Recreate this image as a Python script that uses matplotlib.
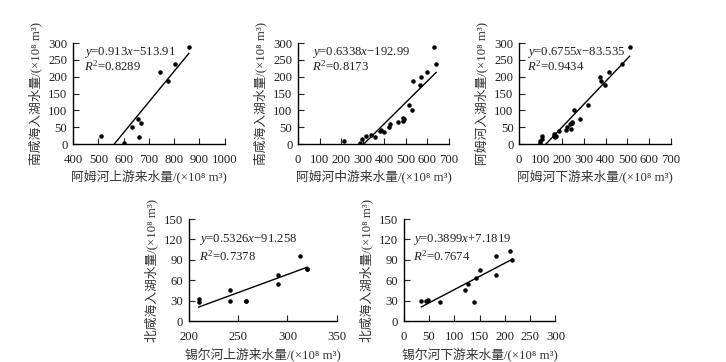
import matplotlib
matplotlib.use("Agg")
import matplotlib.pyplot as plt
import numpy as np

plt.rcParams['font.family'] = ['Liberation Serif', 'Noto Sans CJK SC', 'DejaVu Sans']
plt.rcParams['mathtext.fontset'] = 'custom'
plt.rcParams['mathtext.rm'] = 'Liberation Serif'
plt.rcParams['mathtext.it'] = 'Liberation Serif:italic'

# Panel 1: Amu Darya upstream vs South Aral inflow
p1_x = [510, 600, 632, 655, 662, 670, 742, 775, 805, 858]
p1_y = [25, 4, 50, 75, 20, 63, 215, 188, 238, 288]
p1_coef = (0.913, -513.91)
p1_eq = "$y$=0.913$x$\u2212513.91"
p1_r2 = "$R^{\\mathrm{2}}$=0.8289"

# Panel 2: Amu Darya midstream
p2_x = [212, 285, 295, 315, 340, 355, 378, 385, 400, 420, 425, 465, 485, 488, 490,
        515, 530, 535, 565, 570, 600, 630, 640]
p2_y = [10, 3, 15, 25, 28, 22, 38, 42, 35, 50, 60, 65, 70, 78, 75,
        115, 100, 187, 175, 198, 215, 287, 238]
p2_coef = (0.6338, -192.99)
p2_eq = "$y$=0.6338$x$\u2212192.99"
p2_r2 = "$R^{\\mathrm{2}}$=0.8173"

# Panel 3: Amu Darya downstream
p3_x = [95, 95, 105, 105, 160, 160, 165, 170, 185, 215, 220, 235, 240, 245, 245,
        255, 280, 320, 375, 380, 395, 415, 475, 510]
p3_y = [8, 3, 25, 15, 30, 25, 20, 25, 38, 42, 50, 60, 45, 65, 62,
        100, 75, 115, 200, 188, 175, 215, 238, 288]
p3_coef = (0.6755, -83.535)
p3_eq = "$y$=0.6755$x$\u221283.535"
p3_r2 = "$R^{\\mathrm{2}}$=0.9434"

# Panel 4: Syr Darya upstream vs North Aral inflow
p4_x = [210, 210, 242, 242, 258, 258, 290, 290, 313, 320, 320]
p4_y = [32, 28, 45, 30, 30, 29, 67, 55, 96, 77, 76]
p4_coef = (0.5326, -91.258)
p4_eq = "$y$=0.5326$x$\u221291.258"
p4_r2 = "$R^{\\mathrm{2}}$=0.7378"

# Panel 5: Syr Darya downstream
p5_x = [35, 45, 48, 72, 122, 128, 140, 143, 150, 182, 183, 210, 215]
p5_y = [30, 30, 31, 28, 45, 55, 28, 63, 75, 67, 95, 103, 90]
p5_coef = (0.3899, 7.1819)
p5_eq = "$y$=0.3899$x$+7.1819"
p5_r2 = "$R^{\\mathrm{2}}$=0.7674"

unit = "/(×10\u2078 m\u00b3)"
xlabels = ["阿姆河上游来水量" + unit,
           "阿姆河中游来水量" + unit,
           "阿姆河下游来水量" + unit,
           "锡尔河上游来水量" + unit,
           "锡尔河下游来水量" + unit]
ylabels = ["南咸海入湖水量" + unit,
           "南咸海入湖水量" + unit,
           "阿姆河入湖水量" + unit,
           "北咸海入湖水量" + unit,
           "北咸海入湖水量" + unit]

fig = plt.figure(figsize=(7.26, 3.62), dpi=100)

panels = [
    dict(rect=[0.1006, 0.602, 0.209, 0.279], x=p1_x, y=p1_y, coef=p1_coef, eq=p1_eq, r2=p1_r2,
         xlim=(400, 1000), xt=np.arange(400, 1001, 100), ylim=(0, 300), yt=np.arange(0, 301, 50),
         tx=0.07, ty=(0.91, 0.77)),
    dict(rect=[0.4105, 0.602, 0.208, 0.279], x=p2_x, y=p2_y, coef=p2_coef, eq=p2_eq, r2=p2_r2,
         xlim=(0, 700), xt=np.arange(0, 701, 100), ylim=(0, 300), yt=np.arange(0, 301, 50),
         tx=0.09, ty=(0.91, 0.77)),
    dict(rect=[0.715, 0.602, 0.209, 0.279], x=p3_x, y=p3_y, coef=p3_coef, eq=p3_eq, r2=p3_r2,
         xlim=(0, 700), xt=np.arange(0, 701, 100), ylim=(0, 300), yt=np.arange(0, 301, 50),
         tx=0.05, ty=(0.91, 0.77)),
    dict(rect=[0.260, 0.113, 0.204, 0.282], x=p4_x, y=p4_y, coef=p4_coef, eq=p4_eq, r2=p4_r2,
         xlim=(200, 350), xt=np.arange(200, 351, 50), ylim=(0, 150), yt=np.arange(0, 151, 30),
         tx=0.07, ty=(0.80, 0.63)),
    dict(rect=[0.556, 0.113, 0.209, 0.282], x=p5_x, y=p5_y, coef=p5_coef, eq=p5_eq, r2=p5_r2,
         xlim=(0, 300), xt=np.arange(0, 301, 50), ylim=(0, 150), yt=np.arange(0, 151, 30),
         tx=0.06, ty=(0.80, 0.63)),
]

fs = 9.2
for i, p in enumerate(panels):
    ax = fig.add_axes(p['rect'])
    ax.scatter(p['x'], p['y'], s=5, color='black', zorder=3)
    a, b = p['coef']
    x0 = max(min(p['x']), -b / a) if b < 0 else min(p['x'])
    x1 = max(p['x'])
    xs = np.array([x0, x1])
    ax.plot(xs, a * xs + b, color='black', lw=1.0)
    ax.set_xlim(*p['xlim'])
    ax.set_ylim(*p['ylim'])
    ax.set_xticks(p['xt'])
    ax.set_yticks(p['yt'])
    for s in ['top', 'right']:
        ax.spines[s].set_visible(False)
    for s in ['left', 'bottom']:
        ax.spines[s].set_linewidth(1.0)
    ax.tick_params(direction='in', length=4, width=0.8, labelsize=fs, colors='#222222')
    ax.tick_params(axis='x', pad=7)
    ax.tick_params(axis='y', pad=4)
    ax.text(p['tx'], p['ty'][0], p['eq'], transform=ax.transAxes, fontsize=fs, va='center', ha='left', color='#222222')
    ax.text(p['tx'], p['ty'][1], p['r2'], transform=ax.transAxes, fontsize=fs, va='center', ha='left', color='#222222')
    ax.set_xlabel(xlabels[i], fontsize=fs, labelpad=3, color='#333333')
    ax.set_ylabel(ylabels[i], fontsize=fs, labelpad=4, color='#333333')
    ax.set_facecolor('none')

fig.savefig("out.png", dpi=100)
